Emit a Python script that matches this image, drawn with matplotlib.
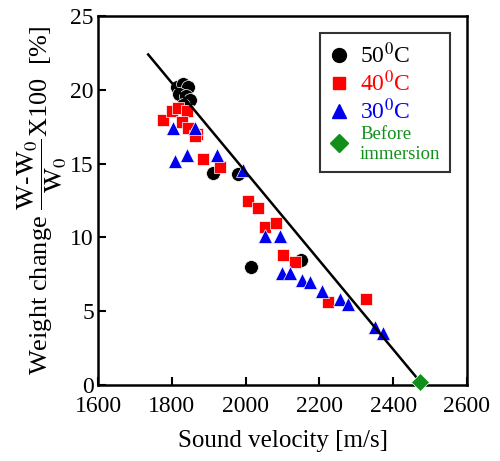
import matplotlib
matplotlib.use("Agg")
import matplotlib.pyplot as plt
from matplotlib.lines import Line2D

plt.rcParams['font.family'] = ['Liberation Serif', 'DejaVu Serif']
plt.rcParams['mathtext.fontset'] = 'stix'

# 50 C (black circles)
v50 = [1815, 1830, 1845, 1820, 1838, 1850, 1830, 1912, 1980, 2015, 2150]
w50 = [20.2, 20.4, 20.2, 19.7, 19.6, 19.3, 19.0, 14.4, 14.3, 8.0, 8.5]
# 40 C (red squares)
v40 = [1776, 1800, 1817, 1841, 1828, 1845, 1869, 1863, 1885, 1931,
       2007, 2034, 2053, 2083, 2102, 2135, 2224, 2325]
w40 = [17.95, 18.6, 18.8, 18.6, 17.8, 17.4, 17.0, 16.9, 15.3, 14.8,
       12.5, 12.0, 10.7, 11.0, 8.8, 8.3, 5.6, 5.8]
# 30 C (blue triangles)
v30 = [1803, 1863, 1809, 1841, 1923, 1994, 2053, 2094, 2099, 2121,
       2153, 2175, 2208, 2257, 2278, 2352, 2373]
w30 = [17.4, 17.4, 15.2, 15.6, 15.6, 14.6, 10.1, 10.1, 7.6, 7.6,
       7.1, 7.0, 6.4, 5.8, 5.5, 3.9, 3.5]
# before immersion
v0 = [2472]
w0 = [0.2]
# regression line end points
fit_v = [1736, 2475]
fit_w = [22.4, 0.15]

fig = plt.figure(figsize=(5, 4.61), dpi=100)
ax = fig.add_axes([0.196, 0.165, 0.738, 0.8])

ax.plot(v50, w50, 'o', color='black', ms=10, mec='white', mew=0.5, zorder=2)
ax.plot(v40, w40, 's', color='#ff0000', ms=9, mec='white', mew=0.5, zorder=3)
ax.plot(v30, w30, '^', color='#0000ee', ms=10, mec='white', mew=0.5, zorder=4)
ax.plot(fit_v, fit_w, '-', color='black', lw=1.8, zorder=5)
ax.plot(v0, w0, 'D', color='#10901a', ms=9, mec='white', mew=0.5, zorder=6, clip_on=False)

ax.set_xlim(1600, 2600)
ax.set_ylim(0, 25)
ax.set_xticks([1600, 1800, 2000, 2200, 2400, 2600])
ax.set_yticks([0, 5, 10, 15, 20, 25])
ax.tick_params(direction='in', length=6, width=1.5, labelsize=17)
ax.tick_params(axis='x', pad=8)
ax.tick_params(axis='y', pad=3)
for s in ax.spines.values():
    s.set_linewidth(1.8)

ax.set_xlabel('Sound velocity [m/s]', fontsize=18, labelpad=9)
ax.set_ylabel(r'Weight change $\dfrac{\mathrm{W}\text{-}\mathrm{W}_0}{\mathrm{W}_0}$X100  [%]',
              fontsize=19, labelpad=1)

handles = [
    Line2D([], [], marker='o', ls='', color='black', ms=10),
    Line2D([], [], marker='s', ls='', color='#ff0000', ms=9),
    Line2D([], [], marker='^', ls='', color='#0000ee', ms=10),
    Line2D([], [], marker='D', ls='', color='#10901a', ms=9),
]
labels = [r'50$^0$C', r'40$^0$C', r'30$^0$C', 'Before\nimmersion']
leg = ax.legend(handles, labels, loc='upper right', bbox_to_anchor=(0.954, 0.954),
                borderaxespad=0, fontsize=17, frameon=True, fancybox=False,
                edgecolor='black', handlelength=0.8, handletextpad=0.5,
                borderpad=0.4, labelspacing=0.1)
leg.get_frame().set_linewidth(1.5)
cols = ['black', '#ff0000', '#0000ee', '#10901a']
for t, c in zip(leg.get_texts(), cols):
    t.set_color(c)
leg.get_texts()[3].set_fontsize(13.5)

fig.savefig('out.png', dpi=100)
